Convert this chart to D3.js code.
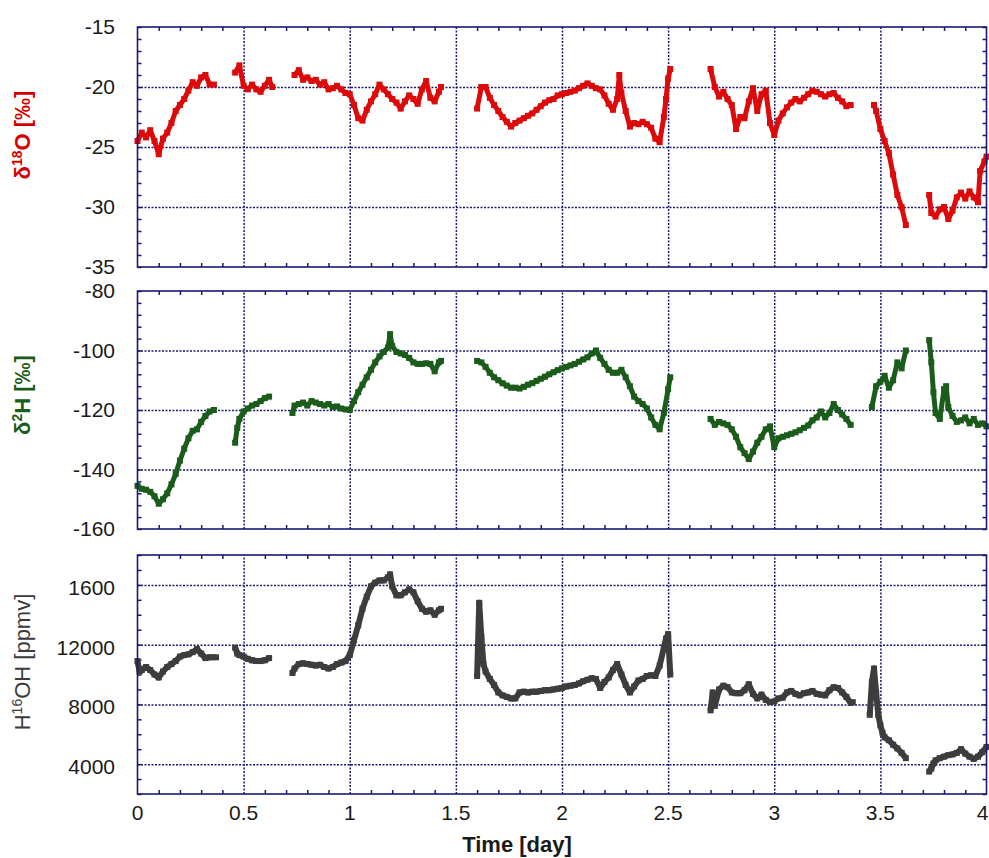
<!DOCTYPE html>
<html>
<head>
<meta charset="utf-8">
<script src="https://cdn.jsdelivr.net/npm/d3@7"></script>
<style>
  body { margin: 0; background: #fff; }
  svg { font-family: "Liberation Sans", Arial, sans-serif; }
</style>
</head>
<body>
<div id="chart"></div>
<script>
var width = 989;
var height = 858;

// time [day], value ; a null value marks a gap in the record
var o18Data = [
  [0,-24.5],[0.02,-23.8],[0.04,-24.2],[0.06,-23.6],[0.08,-24.5],[0.1,-25.6],[0.12,-24.3],[0.14,-23.8],[0.16,-23.0],
  [0.18,-22.0],[0.2,-21.5],[0.22,-21.0],[0.24,-20.3],[0.26,-19.6],[0.28,-19.9],[0.3,-19.2],[0.32,-19.0],[0.34,-19.8],[0.36,-19.8],
  [0.4,null],
  [0.46,-18.8],[0.48,-18.2],[0.5,-19.9],[0.52,-20.2],[0.54,-19.8],[0.56,-20.2],[0.58,-20.4],[0.6,-19.9],[0.62,-19.4],[0.635,-20.0],
  [0.69,null],
  [0.74,-19.0],[0.76,-18.6],[0.78,-19.4],[0.8,-19.2],[0.82,-19.5],[0.84,-19.4],[0.86,-19.8],[0.88,-19.6],[0.9,-20.2],
  [0.92,-20.1],[0.94,-19.9],[0.96,-20.2],[0.98,-20.5],[1.0,-20.6],[1.02,-21.5],[1.04,-22.6],[1.06,-22.8],[1.08,-21.9],
  [1.1,-21.2],[1.12,-20.6],[1.14,-19.8],[1.16,-20.2],[1.18,-20.6],[1.2,-21.0],[1.22,-21.3],[1.24,-21.8],[1.26,-21.2],
  [1.28,-20.7],[1.3,-21.0],[1.32,-21.4],[1.34,-20.2],[1.36,-19.5],[1.38,-20.9],[1.4,-21.2],[1.42,-20.4],[1.43,-20.0],
  [1.5,null],
  [1.6,-21.8],[1.62,-20.0],[1.64,-20.0],[1.66,-20.9],[1.68,-21.5],[1.7,-22.0],[1.72,-22.5],[1.74,-22.9],[1.76,-23.3],
  [1.78,-23.0],[1.8,-22.8],[1.82,-22.6],[1.84,-22.4],[1.86,-22.2],[1.88,-21.9],[1.9,-21.6],[1.92,-21.3],[1.94,-21.1],
  [1.96,-21.0],[1.98,-20.7],[2.0,-20.6],[2.02,-20.5],[2.04,-20.4],[2.06,-20.3],[2.08,-20.1],[2.1,-19.9],[2.12,-19.7],
  [2.14,-19.9],[2.16,-20.1],[2.18,-20.2],[2.2,-20.7],[2.22,-21.4],[2.24,-21.9],[2.26,-21.0],[2.27,-19.0],[2.28,-20.5],
  [2.3,-22.0],[2.32,-23.3],[2.34,-23.0],[2.36,-23.1],[2.38,-22.9],[2.4,-23.1],[2.42,-23.4],[2.44,-24.3],[2.46,-24.6],
  [2.48,-22.5],[2.49,-21.0],[2.5,-19.3],[2.51,-18.5],
  [2.6,null],
  [2.7,-18.5],[2.72,-20.0],[2.74,-20.8],[2.76,-20.4],[2.78,-21.0],[2.8,-21.5],[2.82,-23.5],[2.84,-22.5],[2.86,-22.6],
  [2.88,-21.2],[2.9,-20.1],[2.92,-22.0],[2.94,-20.6],[2.96,-20.3],[2.98,-23.0],[3.0,-24.0],[3.02,-22.8],[3.04,-22.2],
  [3.06,-21.7],[3.08,-21.3],[3.1,-21.0],[3.12,-21.2],[3.14,-20.9],[3.16,-20.6],[3.18,-20.3],[3.2,-20.4],[3.22,-20.6],
  [3.24,-20.8],[3.26,-20.6],[3.28,-20.5],[3.3,-20.9],[3.32,-21.2],[3.34,-21.6],[3.36,-21.5],
  [3.42,null],
  [3.47,-21.5],[3.48,-22.0],[3.5,-23.5],[3.52,-24.5],[3.54,-25.5],[3.56,-27.3],[3.58,-29.0],[3.6,-30.0],[3.62,-31.5],
  [3.68,null],
  [3.73,-29.0],[3.74,-30.5],[3.76,-30.8],[3.78,-30.2],[3.8,-30.0],[3.82,-31.0],[3.84,-30.3],[3.86,-29.2],[3.88,-28.8],
  [3.9,-29.3],[3.92,-28.7],[3.94,-29.2],[3.96,-29.6],[3.97,-27.0],[3.99,-26.2],[4.0,-25.8]
];

var h2Data = [
  [0,-145.5],[0.02,-146.5],[0.04,-146.8],[0.06,-147.5],[0.08,-149.0],[0.1,-151.5],[0.12,-150.0],[0.14,-148.0],[0.16,-145.0],
  [0.18,-141.5],[0.2,-137.0],[0.22,-133.0],[0.24,-129.5],[0.26,-127.0],[0.28,-126.5],[0.3,-124.0],[0.32,-122.0],[0.34,-120.5],[0.36,-120.0],
  [0.4,null],
  [0.46,-131.0],[0.47,-126.0],[0.48,-123.0],[0.5,-120.5],[0.52,-119.5],[0.54,-118.5],[0.56,-118.0],[0.58,-117.0],[0.6,-116.0],[0.62,-115.5],
  [0.68,null],
  [0.73,-121.0],[0.74,-118.5],[0.76,-118.0],[0.78,-117.5],[0.8,-118.5],[0.82,-117.0],[0.84,-117.5],[0.86,-118.0],[0.88,-118.5],
  [0.9,-118.0],[0.92,-119.0],[0.94,-118.8],[0.96,-119.5],[0.98,-119.8],[1.0,-120.0],[1.02,-117.0],[1.04,-114.0],[1.06,-111.5],
  [1.08,-109.0],[1.1,-106.5],[1.12,-104.0],[1.14,-102.0],[1.16,-100.5],[1.18,-99.0],[1.19,-94.5],[1.2,-98.5],[1.22,-100.5],
  [1.24,-101.0],[1.26,-101.5],[1.28,-102.5],[1.3,-104.0],[1.32,-104.5],[1.34,-104.5],[1.36,-104.3],[1.38,-104.5],[1.4,-107.0],
  [1.42,-104.0],[1.43,-103.5],
  [1.5,null],
  [1.6,-103.5],[1.62,-104.0],[1.64,-105.5],[1.66,-107.5],[1.68,-109.0],[1.7,-110.0],[1.72,-111.0],[1.74,-111.8],[1.76,-112.5],
  [1.78,-112.5],[1.8,-112.8],[1.82,-112.2],[1.84,-111.5],[1.86,-111.0],[1.88,-110.2],[1.9,-109.5],[1.92,-108.8],[1.94,-108.0],
  [1.96,-107.3],[1.98,-106.6],[2.0,-106.0],[2.02,-105.5],[2.04,-105.0],[2.06,-104.5],[2.08,-103.8],[2.1,-103.0],[2.12,-102.3],
  [2.14,-101.0],[2.16,-100.0],[2.18,-102.5],[2.2,-104.5],[2.22,-106.5],[2.24,-107.5],[2.26,-107.5],[2.28,-106.5],[2.3,-109.0],
  [2.32,-112.0],[2.34,-115.5],[2.36,-117.0],[2.38,-118.0],[2.4,-119.5],[2.42,-122.5],[2.44,-125.0],[2.46,-126.5],[2.48,-121.0],
  [2.5,-113.0],[2.51,-109.0],
  [2.6,null],
  [2.7,-123.0],[2.72,-125.0],[2.74,-124.0],[2.76,-124.5],[2.78,-125.0],[2.8,-126.5],[2.82,-129.0],[2.84,-132.5],[2.86,-134.5],
  [2.88,-136.5],[2.9,-134.0],[2.92,-131.0],[2.94,-129.0],[2.96,-126.5],[2.98,-125.5],[3.0,-132.5],[3.02,-129.5],[3.04,-129.0],
  [3.06,-128.5],[3.08,-128.0],[3.1,-127.5],[3.12,-126.8],[3.14,-126.0],[3.16,-125.2],[3.18,-123.5],[3.2,-122.5],[3.22,-120.5],
  [3.24,-122.5],[3.26,-121.0],[3.28,-118.0],[3.3,-120.0],[3.32,-121.5],[3.34,-123.0],[3.36,-125.0],
  [3.41,null],
  [3.46,-119.0],[3.48,-112.0],[3.5,-110.5],[3.52,-108.5],[3.54,-112.5],[3.56,-110.0],[3.58,-104.0],[3.6,-106.0],[3.62,-100.0],
  [3.68,null],
  [3.73,-96.5],[3.74,-104.0],[3.75,-114.0],[3.76,-121.0],[3.78,-123.0],[3.8,-113.0],[3.81,-112.0],[3.82,-119.0],[3.84,-122.0],
  [3.86,-124.0],[3.88,-123.5],[3.9,-122.5],[3.92,-124.5],[3.94,-123.0],[3.96,-125.0],[3.98,-124.5],[4.0,-125.5]
];

var h2oData = [
  [0,10900],[0.01,10200],[0.02,10300],[0.04,10500],[0.06,10300],[0.08,10000],[0.1,9800],[0.12,10200],[0.14,10500],
  [0.16,10700],[0.18,10900],[0.2,11200],[0.22,11300],[0.24,11350],[0.26,11500],[0.28,11700],[0.3,11400],[0.32,11100],
  [0.34,11150],[0.37,11150],
  [0.41,null],
  [0.46,11800],[0.47,11400],[0.48,11300],[0.5,11200],[0.52,11050],[0.54,10950],[0.56,10900],[0.58,10900],[0.6,10950],[0.62,11100],
  [0.68,null],
  [0.73,10100],[0.74,10400],[0.76,10700],[0.78,10750],[0.8,10700],[0.82,10650],[0.84,10600],[0.86,10650],[0.88,10500],
  [0.9,10400],[0.92,10500],[0.94,10700],[0.96,10800],[0.98,10900],[1.0,11300],[1.02,12300],[1.04,13300],[1.06,14400],
  [1.08,15200],[1.1,15900],[1.12,16150],[1.14,16300],[1.16,16300],[1.18,16500],[1.19,16700],[1.2,15900],[1.22,15300],
  [1.24,15300],[1.26,15500],[1.28,15700],[1.3,15500],[1.32,14900],[1.34,14400],[1.36,14200],[1.38,14300],[1.4,14000],
  [1.42,14300],[1.43,14400],
  [1.5,null],
  [1.6,9900],[1.61,14800],[1.62,12500],[1.63,10700],[1.64,10200],[1.66,9700],[1.68,9300],[1.7,8800],[1.72,8600],[1.74,8500],
  [1.76,8400],[1.78,8400],[1.8,8800],[1.82,8850],[1.84,8800],[1.86,8850],[1.88,8850],[1.9,8900],[1.92,8950],[1.94,8950],
  [1.96,9000],[1.98,9050],[2.0,9100],[2.02,9200],[2.04,9250],[2.06,9300],[2.08,9400],[2.1,9550],[2.12,9650],[2.14,9750],
  [2.16,9700],[2.18,9100],[2.2,9500],[2.22,9800],[2.24,10300],[2.26,10700],[2.28,10000],[2.3,9300],[2.32,8800],[2.34,9200],
  [2.36,9600],[2.38,9700],[2.4,9900],[2.42,9950],[2.44,9900],[2.46,10600],[2.48,11800],[2.49,12400],[2.5,12700],[2.51,10000],
  [2.6,null],
  [2.7,7600],[2.71,8800],[2.72,7900],[2.74,9000],[2.76,9250],[2.78,9150],[2.8,8800],[2.82,8750],[2.84,8750],[2.86,8950],
  [2.88,9350],[2.9,8700],[2.92,8400],[2.94,8650],[2.96,8300],[2.98,8150],[3.0,8200],[3.02,8400],[3.04,8450],[3.06,8800],
  [3.08,8900],[3.1,8700],[3.12,8600],[3.14,8750],[3.16,8800],[3.18,8900],[3.2,8700],[3.22,8650],[3.24,8600],[3.26,8950],
  [3.28,9150],[3.3,9100],[3.32,8800],[3.34,8500],[3.36,8100],[3.37,8150],
  [3.41,null],
  [3.45,7300],[3.46,9500],[3.47,10400],[3.48,8800],[3.49,7300],[3.5,6600],[3.51,6100],[3.52,5800],[3.54,5600],[3.56,5300],
  [3.58,5050],[3.6,4750],[3.62,4400],
  [3.68,null],
  [3.73,3500],[3.74,3700],[3.75,4050],[3.76,4250],[3.78,4400],[3.8,4500],[3.82,4600],[3.84,4650],[3.86,4750],[3.88,5000],
  [3.9,4700],[3.92,4500],[3.94,4350],[3.96,4500],[3.98,4800],[4.0,5150]
];

var xTicks = [0, 0.5, 1, 1.5, 2, 2.5, 3, 3.5, 4];
var xTickLabels = ["0", "0.5", "1", "1.5", "2", "2.5", "3", "3.5", "4"];

var o18Ticks = [-35, -30, -25, -20, -15];
var h2Ticks = [-160, -140, -120, -100, -80];
var h2oTicks = [4000, 8000, 12000, 16000];
var h2oTickLabels = ["4000", "8000", "12000", "1600"];

var navy = "#1a1a70";

var svg = d3.select("#chart")
  .append("svg")
  .attr("width", width)
  .attr("height", height);

var x = d3.scaleLinear().domain([0, 4]).range([137.5, 986.5]);

var panels = [
  { data: o18Data, top: 27, bottom: 267, domain: [-35, -15], ticks: o18Ticks, labels: o18Ticks.map(String),
    minor: d3.range(-35, -14, 1), grid: [-30, -25, -20], color: "#dc0a0a", dy: 3 },
  { data: h2Data, top: 291, bottom: 529, domain: [-160, -80], ticks: h2Ticks, labels: h2Ticks.map(String),
    minor: d3.range(-160, -79, 4), grid: [-140, -120, -100], color: "#1b5c1b", dy: 3 },
  { data: h2oData, top: 555, bottom: 794, domain: [2000, 18000], ticks: h2oTicks, labels: h2oTickLabels,
    minor: d3.range(2000, 18001, 1000), grid: h2oTicks, color: "#3d3d3d", dy: 6 }
];

panels.forEach(function(p, i){
  var y = d3.scaleLinear().domain(p.domain).range([p.bottom, p.top]);
  var g = svg.append("g");
  var h = p.bottom - p.top;
  var w = x.range()[1] - x.range()[0];

  // dotted grid
  g.append("g")
    .attr("transform", "translate(0," + p.bottom + ")")
    .call(d3.axisBottom(x).tickValues([0.5, 1, 1.5, 2, 2.5, 3, 3.5]).tickSize(-h).tickFormat(""))
    .call(function(a){ a.select(".domain").remove(); })
    .selectAll("line")
    .attr("stroke", navy).attr("stroke-width", 1.5).attr("stroke-dasharray", "2,1.5");

  g.append("g")
    .attr("transform", "translate(" + x.range()[0] + ",0)")
    .call(d3.axisLeft(y).tickValues(p.grid).tickSize(-w).tickFormat(""))
    .call(function(a){ a.select(".domain").remove(); })
    .selectAll("line")
    .attr("stroke", navy).attr("stroke-width", 1.5).attr("stroke-dasharray", "2,1.5");

  // minor ticks on all four sides, pointing inward
  var minorX = d3.range(0.1, 4, 0.1).filter(function(t){ return Math.abs(t * 2 - Math.round(t * 2)) > 0.01; });
  var sides = [
    [d3.axisBottom(x).tickValues(minorX), "translate(0," + p.bottom + ")"],
    [d3.axisTop(x).tickValues(minorX), "translate(0," + p.top + ")"],
    [d3.axisLeft(y).tickValues(p.minor), "translate(" + x.range()[0] + ",0)"],
    [d3.axisRight(y).tickValues(p.minor), "translate(" + x.range()[1] + ",0)"]
  ];
  sides.forEach(function(s){
    g.append("g")
      .attr("transform", s[1])
      .call(s[0].tickSize(-4).tickFormat(""))
      .call(function(a){ a.select(".domain").remove(); })
      .selectAll("line")
      .attr("stroke", navy).attr("stroke-width", 1.5);
  });

  // data
  var line = d3.line()
    .defined(function(d){ return d[1] != null; })
    .x(function(d){ return x(d[0]); })
    .y(function(d){ return y(d[1]); });

  g.append("path")
    .datum(p.data)
    .attr("fill", "none")
    .attr("stroke", p.color)
    .attr("stroke-width", i == 2 ? 6 : 5)
    .attr("stroke-linejoin", "round")
    .attr("d", line);

  var s = i == 2 ? 6 : 6;
  g.selectAll("rect.pt")
    .data(p.data.filter(function(d){ return d[1] != null; }))
    .enter()
    .append("rect")
    .attr("class", "pt")
    .attr("x", function(d){ return x(d[0]) - s / 2; })
    .attr("y", function(d){ return y(d[1]) - s / 2; })
    .attr("width", s)
    .attr("height", s)
    .attr("fill", p.color);

  // frame
  g.append("rect")
    .attr("x", x.range()[0])
    .attr("y", p.top)
    .attr("width", w)
    .attr("height", h)
    .attr("fill", "none")
    .attr("stroke", navy)
    .attr("stroke-width", 1.6);

  // y tick labels
  g.selectAll("text.ylab")
    .data(p.ticks)
    .enter()
    .append("text")
    .attr("class", "ylab")
    .attr("x", 115)
    .attr("y", function(d){ return y(d) + p.dy + 4; })
    .attr("text-anchor", "end")
    .attr("font-size", 21)
    .attr("fill", "#1a1a1a")
    .text(function(d, j){ return p.labels[j]; });
});

// x tick labels under the bottom panel
svg.selectAll("text.xlab")
  .data(xTicks)
  .enter()
  .append("text")
  .attr("class", "xlab")
  .attr("x", function(d){ return d == 4 ? x(d) - 4 : x(d); })
  .attr("y", 820)
  .attr("text-anchor", "middle")
  .attr("font-size", 21)
  .attr("fill", "#1a1a1a")
  .text(function(d, j){ return xTickLabels[j]; });

svg.append("text")
  .attr("x", 517)
  .attr("y", 852)
  .attr("text-anchor", "middle")
  .attr("font-size", 22)
  .attr("font-weight", "bold")
  .attr("fill", "#1a1a1a")
  .text("Time [day]");

// axis titles
function yTitle(cy, color, bold, parts){
  var t = svg.append("text")
    .attr("transform", "translate(30," + cy + ") rotate(-90)")
    .attr("text-anchor", "middle")
    .attr("font-size", 22)
    .attr("font-weight", bold ? "bold" : "normal")
    .attr("fill", color);
  parts.forEach(function(pt){
    var sp = t.append("tspan").text(pt[0]);
    if(pt[1]) sp.attr("font-size", 14).attr("dy", -8);
    else if(pt[2]) sp.attr("dy", 8);
  });
}

yTitle(135, "#d40000", true, [["δ"], ["18", true], ["O [‰]", false, true]]);
yTitle(395, "#1b5c1b", true, [["δ"], ["2", true], ["H [‰]", false, true]]);
yTitle(662, "#3a3a3a", false, [["H"], ["16", true], ["OH [ppmv]", false, true]]);
</script>
</body>
</html>
